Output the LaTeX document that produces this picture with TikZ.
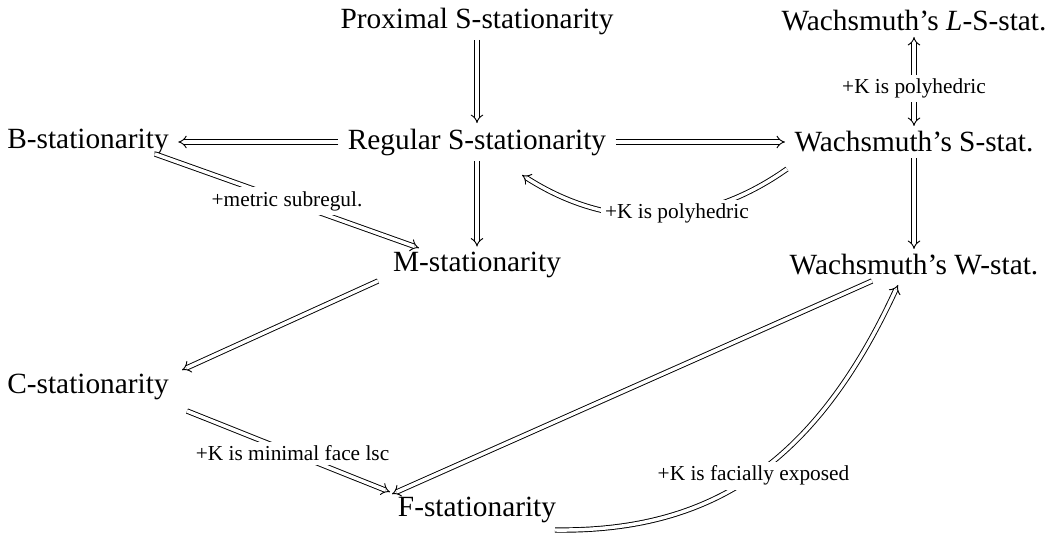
\documentclass[tikz,border=0pt]{standalone}
\usepackage{fontspec}
\setmainfont{Liberation Serif}
\usetikzlibrary{arrows.meta,calc}
\begin{document}
\begin{tikzpicture}[x=0.75pt,y=-0.75pt,
  st/.style={font=\fontsize{22}{26}\selectfont, inner xsep=7pt, inner ysep=4pt},
  imp/.style={double, double distance=2.6pt, line width=0.7pt, -{Implies}},
  eqv/.style={double, double distance=2.6pt, line width=0.7pt, {Implies}-{Implies}},
  lab/.style={font=\fontsize{16}{19}\selectfont, fill=white, inner sep=3pt}]
\useasboundingbox (0,0) rectangle (1051,541);
\node[st] (Prox) at (477,21) {Proximal S-stationarity};
\node[st] (WL) at (914,21) {Wachsmuth’s \textit{L}-S-stat.};
\node[st] (B) at (88,142) {B-stationarity};
\node[st] (Reg) at (477,142) {Regular S-stationarity};
\node[st] (WS) at (914,142) {Wachsmuth’s S-stat.};
\node[st] (M) at (477,265) {M-stationarity};
\node[st] (WW) at (914,265) {Wachsmuth’s W-stat.};
\node[st] (C) at (88,387) {C-stationarity};
\node[st] (F) at (477,510) {F-stationarity};

\draw[imp] (Prox) -- (Reg);
\draw[eqv] (WS) -- node[lab,pos=0.42] {+K is polyhedric} (WL);
\draw[imp] (Reg) -- (B);
\draw[imp] (Reg) -- (WS);
\draw[imp] (Reg) -- (M);
\draw[imp] (WS) -- (WW);
\draw[imp] ($(WS)+(-127,27)$) to[bend left=34] node[lab,pos=0.42] {+K is polyhedric} ($(Reg)+(45,33)$);
\draw[imp] ($(B)+(67,12)$) -- node[lab] {+metric subregul.} ($(M)+(-58,-17)$);
\draw[imp] ($(M)+(-99,16)$) -- ($(C)+(94,-17)$);
\draw[imp] ($(C)+(99,24)$) -- node[lab,pos=0.52] {+K is minimal face lsc} ($(F)+(-87,-18)$);
\draw[imp] ($(WW)+(-42,16)$) -- ($(F)+(-85,-16)$);
\draw[imp] ($(F)+(78,20)$) .. controls ($(F)+(233,22)$) and ($(WW)+(-99,200)$) .. node[lab] {+K is facially exposed} ($(WW)+(-16,20)$);
\end{tikzpicture}
\end{document}
